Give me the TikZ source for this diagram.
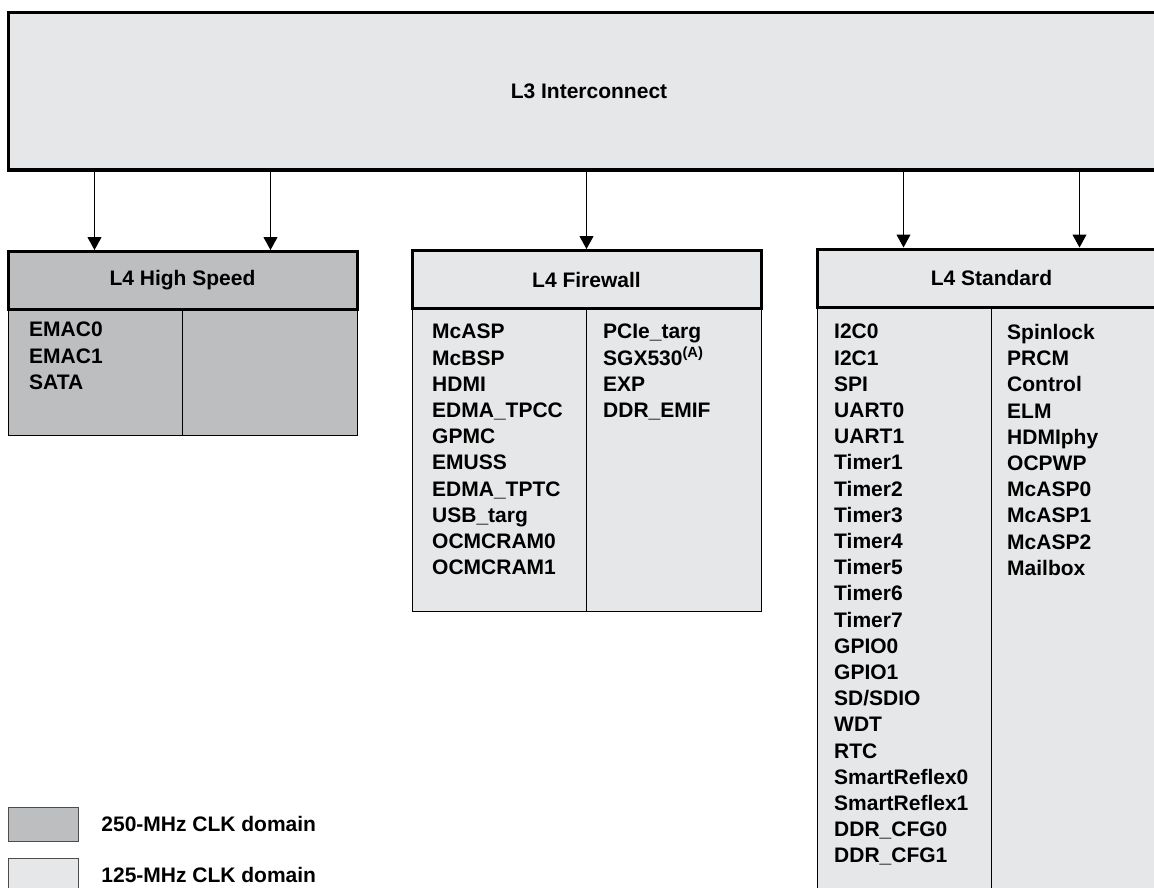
\documentclass[tikz,border=0pt]{standalone}
\usepackage{fontspec}
\setmainfont{Liberation Sans}
\usetikzlibrary{arrows.meta,positioning,calc}
\definecolor{clkhigh}{HTML}{BCBEC0}
\definecolor{clklow}{HTML}{E6E7E8}
\newcommand{\boxfont}{\fontsize{21}{26.2}\selectfont\bfseries}

\begin{document}
\begin{tikzpicture}[
  x=1pt, y=-1pt,
  >={Triangle[width=14pt,length=13pt]},
  header/.style={
    draw,
    line width=3pt,
    inner sep=0pt,
    font=\boxfont,
    minimum width=349pt,
    minimum height=58pt
  },
  bus/.style={header, fill=clklow, minimum width=1162pt, minimum height=157pt},
  fastbox/.style={fill=clkhigh},
  slowbox/.style={fill=clklow},
  body/.style={draw, line width=1pt, inner sep=0pt, minimum width=349pt},
  list/.style={anchor=north west, align=left, inner sep=0pt, font=\boxfont},
  legbox/.style={draw=black!70, line width=1pt, inner sep=0pt,
    minimum width=70pt, minimum height=34pt},
  legtext/.style={anchor=west, inner sep=0pt, font=\boxfont},
  edge/.style={->, line width=1pt}
]
  \useasboundingbox (0,0) rectangle (1154,888);

  \node[bus] (l3) at (589,91.5) {L3 Interconnect};

  % bodies first, headers drawn on top
  \node[body, fastbox, minimum height=125pt] (hsbody) at (182.5,372.5) {};
  \node[body, slowbox, minimum height=302pt] (fwbody) at (586.5,460) {};
  \node[body, slowbox, minimum height=598pt] (stdbody) at (991.5,606) {};
  \draw[line width=1pt] (hsbody.north) -- (hsbody.south);
  \draw[line width=1pt] (fwbody.north) -- (fwbody.south);
  \draw[line width=1pt] (stdbody.north) -- (stdbody.south);

  \node[header, fastbox] (hs) at (182.5,280.5) {L4 High Speed};
  \node[header, slowbox] (fw) at (586.5,279.5) {L4 Firewall};
  \node[header, slowbox] (std) at (991.5,278) {L4 Standard};

  \node[list] (hslist) at (29,322)
    {EMAC0\\ EMAC1\\ SATA};
  \node[list] (fwlista) at (432,324)
    {McASP\\ McBSP\\ HDMI\\ EDMA\_TPCC\\ GPMC\\ EMUSS\\
     EDMA\_TPTC\\ USB\_targ\\ OCMCRAM0\\ OCMCRAM1};
  \node[list] (fwlistb) at (603,324)
    {PCIe\_targ\\ SGX530\textsuperscript{(A)}\\ EXP\\ DDR\_EMIF};
  \node[list] (stdlista) at (834,324)
    {I2C0\\ I2C1\\ SPI\\ UART0\\ UART1\\ Timer1\\ Timer2\\ Timer3\\
     Timer4\\ Timer5\\ Timer6\\ Timer7\\ GPIO0\\ GPIO1\\ SD/SDIO\\
     WDT\\ RTC\\ SmartReflex0\\ SmartReflex1\\ DDR\_CFG0\\ DDR\_CFG1};
  \node[list] (stdlistb) at (1007,324)
    {Spinlock\\ PRCM\\ Control\\ ELM\\ HDMIphy\\ OCPWP\\
     McASP0\\ McASP1\\ McASP2\\ Mailbox};

  % legend
  \node[legbox, fastbox] (legfast) at (43,824) {};
  \node[legbox, slowbox] (legslow) at (43,875) {};
  \node[legtext, right=22.7pt of legfast] (legfasttext) {250-MHz CLK domain};
  \node[legtext, right=22.7pt of legslow] (legslowtext) {125-MHz CLK domain};

  \coordinate (hsa) at ($(hs.north west)!.25!(hs.north east)$);
  \coordinate (hsb) at ($(hs.north west)!.75!(hs.north east)$);
  \coordinate (stda) at ($(std.north west)!.25!(std.north east)$);
  \coordinate (stdb) at ($(std.north west)!.75!(std.north east)$);

  \draw[edge] (l3.south -| hsa) -- (hsa);
  \draw[edge] (l3.south -| hsb) -- (hsb);
  \draw[edge] (l3.south -| fw.north) -- (fw.north);
  \draw[edge] (l3.south -| stda) -- (stda);
  \draw[edge] (l3.south -| stdb) -- (stdb);
\end{tikzpicture}
\end{document}
